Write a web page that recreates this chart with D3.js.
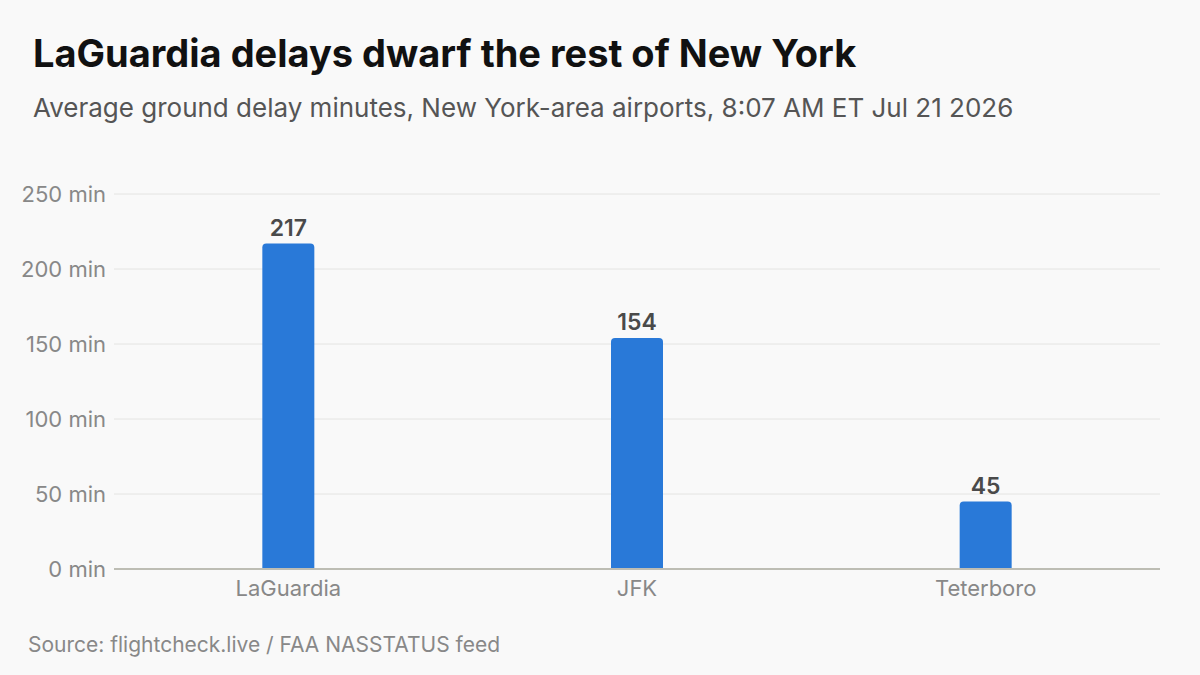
<!DOCTYPE html>
<html lang="en">
<head>
    <meta charset="UTF-8">
    <title>LaGuardia delays</title>
    <script src="https://cdn.jsdelivr.net/npm/d3@7/dist/d3.min.js"></script>
    <style>
        html, body {
            margin: 0;
            padding: 0;
            background: #f9f9f9;
        }
        svg {
            display: block;
            font-family: Inter, "Noto Sans", sans-serif;
        }
        .grid line { stroke: #e4e4e2; stroke-width: 1; }
        .baseline { stroke: #bdbdb4; stroke-width: 2; }
        .tick-label { fill: #888; font-size: 22px; }
        .value-label { fill: #4a4a4a; font-size: 23px; font-weight: 600; }
    </style>
</head>
<body>
    <svg width="1200" height="675"></svg>
    <script>
        var airports = ['LaGuardia', 'JFK', 'Teterboro'],
            delays = [217, 154, 45],
            yTicks = [0, 50, 100, 150, 200, 250];

        var svg = d3.select('svg'),
            plotLeft = 114, plotRight = 1160, plotTop = 194, plotBottom = 569;

        svg.append('rect')
            .attr('width', 1200).attr('height', 675)
            .attr('fill', '#f9f9f9');

        svg.append('text')
            .attr('x', 33).attr('y', 67)
            .attr('font-size', 38).attr('font-weight', 700)
            .attr('fill', '#111')
            .text('LaGuardia delays dwarf the rest of New York');

        svg.append('text')
            .attr('x', 33).attr('y', 117)
            .attr('font-size', 26)
            .attr('fill', '#555')
            .text('Average ground delay minutes, New York-area airports, 8:07 AM ET Jul 21 2026');

        var x = d3.scaleBand()
                .domain(airports)
                .range([plotLeft, plotRight])
                .padding(0),
            y = d3.scaleLinear()
                .domain([0, 250])
                .range([plotBottom, plotTop]);

        // gridlines
        svg.append('g').classed('grid', true)
            .selectAll('line')
            .data(yTicks.filter(function(d) { return d > 0; }))
            .enter().append('line')
            .attr('x1', plotLeft).attr('x2', plotRight)
            .attr('y1', function(d) { return y(d); })
            .attr('y2', function(d) { return y(d); });

        // y tick labels
        svg.append('g')
            .selectAll('text')
            .data(yTicks)
            .enter().append('text')
            .classed('tick-label', true)
            .attr('x', 106)
            .attr('y', function(d) { return y(d); })
            .attr('dy', '0.35em')
            .attr('text-anchor', 'end')
            .text(function(d) { return d + ' min'; });

        // bars with rounded tops
        var barW = 52, r = 4;
        svg.append('g')
            .selectAll('path')
            .data(delays)
            .enter().append('path')
            .attr('fill', '#2979d8')
            .attr('d', function(d, i) {
                var cx = x(airports[i]) + x.bandwidth() / 2,
                    x0 = cx - barW / 2, x1 = cx + barW / 2,
                    y0 = y(0), y1 = y(d);
                return 'M' + x0 + ',' + y0 +
                    'V' + (y1 + r) +
                    'Q' + x0 + ',' + y1 + ' ' + (x0 + r) + ',' + y1 +
                    'H' + (x1 - r) +
                    'Q' + x1 + ',' + y1 + ' ' + x1 + ',' + (y1 + r) +
                    'V' + y0 + 'Z';
            });

        // value labels
        svg.append('g')
            .selectAll('text')
            .data(delays)
            .enter().append('text')
            .classed('value-label', true)
            .attr('x', function(d, i) { return x(airports[i]) + x.bandwidth() / 2; })
            .attr('y', function(d) { return y(d) - 8; })
            .attr('text-anchor', 'middle')
            .text(function(d) { return d; });

        // baseline
        svg.append('line')
            .classed('baseline', true)
            .attr('x1', plotLeft).attr('x2', plotRight)
            .attr('y1', y(0)).attr('y2', y(0));

        // x labels
        svg.append('g')
            .selectAll('text')
            .data(airports)
            .enter().append('text')
            .classed('tick-label', true)
            .attr('x', function(d) { return x(d) + x.bandwidth() / 2; })
            .attr('y', 596)
            .attr('text-anchor', 'middle')
            .text(function(d) { return d; });

        svg.append('text')
            .attr('x', 28).attr('y', 652)
            .attr('font-size', 21)
            .attr('fill', '#888')
            .text('Source: flightcheck.live / FAA NASSTATUS feed');
    </script>
</body>
</html>
